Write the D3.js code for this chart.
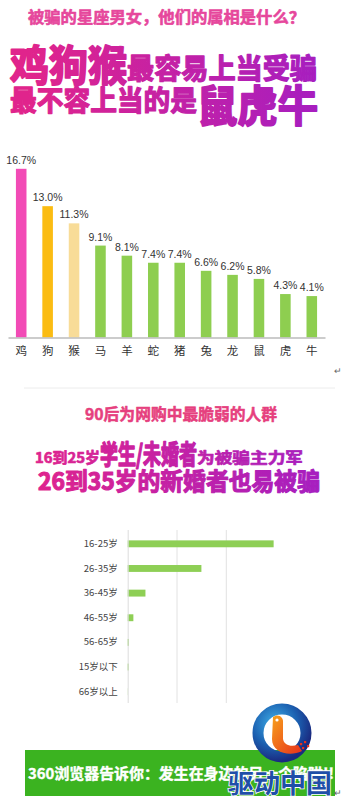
<!DOCTYPE html>
<html><head><meta charset="utf-8">
<script src="https://cdn.jsdelivr.net/npm/d3@7/dist/d3.min.js"></script>
<style>body{margin:0;background:#fff}svg{display:block}</style>
</head><body>
<script>
// ---- data ----
const zodiacCats = ["鸡","狗","猴","马","羊","蛇","猪","兔","龙","鼠","虎","牛"];
const zodiacVals = [16.7,13.0,11.3,9.1,8.1,7.4,7.4,6.6,6.2,5.8,4.3,4.1];
const zodiacColors = ["#f24bb6","#fbbc12","#f8dc98","#8ece50","#8ece50","#8ece50","#8ece50","#8ece50","#8ece50","#8ece50","#8ece50","#8ece50"];
const ageCats = ["16-25岁","26-35岁","36-45岁","46-55岁","56-65岁","15岁以下","66岁以上"];
const ageVals = [59.2,29.9,7.2,2.3,0.5,0.4,0.05];
const ageGrid = [20,40];

const W=345,H=799;
const svg=d3.select("body").append("svg").attr("width",W).attr("height",H);
const defs=svg.append("defs");
const g2=defs.append("linearGradient").attr("id","mag2").attr("gradientUnits","userSpaceOnUse").attr("x1",30).attr("x2",320).attr("y1",0).attr("y2",0);
g2.append("stop").attr("offset","0").attr("stop-color","#e0248c");
g2.append("stop").attr("offset","1").attr("stop-color","#a61ec0");
const gb=defs.append("radialGradient").attr("id","ring").attr("cx","0.35").attr("cy","0.3").attr("r","0.8");
gb.append("stop").attr("offset","0").attr("stop-color","#3fb0e8");
gb.append("stop").attr("offset","0.6").attr("stop-color","#1b5fb0");
gb.append("stop").attr("offset","1").attr("stop-color","#1a2a80");
const go=defs.append("linearGradient").attr("id","orng").attr("x1","0").attr("x2","1").attr("y1","0").attr("y2","1");
go.append("stop").attr("offset","0").attr("stop-color","#f7a21b");
go.append("stop").attr("offset","1").attr("stop-color","#e8301c");

const CJK='"Noto Sans CJK SC", sans-serif';
const ARIAL='"Liberation Sans", Arial, sans-serif';

function txt(s,x,y,size,fill,len,opts={}){
  const t=svg.append("text").attr("x",x).attr("y",y).attr("font-family",opts.family||CJK)
   .attr("font-size",size).attr("font-weight",opts.weight||"bold").attr("fill",fill)
   .attr("dominant-baseline","central").text(s);
  if(len){t.attr("textLength",len).attr("lengthAdjust","spacingAndGlyphs");}
  if(opts.anchor) t.attr("text-anchor",opts.anchor);
  if(opts.heavy){t.attr("stroke",fill).attr("stroke-width",opts.heavy).attr("stroke-linejoin","round");}
  return t;
}

// ---- header ----
txt("被骗的星座男女，他们的属相是什么？",28,15.5,16,"#e6479c",277,{heavy:0.6});
txt("鸡狗猴",10,62,42,"url(#mag2)",117,{heavy:2});
txt("最容易上当受骗",127,66.5,28,"url(#mag2)",190,{heavy:1.3});
txt("最不容上当的是",10,98.5,28,"url(#mag2)",187,{heavy:1.3});
txt("鼠虎牛",197,102.5,43,"url(#mag2)",121,{heavy:2});

// ---- chart 1 ----
const x1=d3.scaleBand().domain(zodiacCats).range([8,325]).paddingInner(0.6).paddingOuter(0.3);
const y1=d3.scaleLinear().domain([0,16.7]).range([337.5,168.8]);
const c1=svg.append("g");
c1.selectAll("rect").data(zodiacVals).join("rect")
  .attr("x",(d,i)=>x1(zodiacCats[i])).attr("width",x1.bandwidth())
  .attr("y",d=>y1(d)).attr("height",d=>y1(0)-y1(d)).attr("fill",(d,i)=>zodiacColors[i]);
c1.selectAll("text.v").data(zodiacVals).join("text").attr("class","v")
  .attr("x",(d,i)=>x1(zodiacCats[i])+x1.bandwidth()/2).attr("y",d=>y1(d)-5)
  .attr("text-anchor","middle").attr("font-family",ARIAL).attr("font-size",10.5).attr("fill","#333")
  .text(d=>d.toFixed(1)+"%");
const ax1=svg.append("g").attr("transform",`translate(0,${y1(0)})`)
  .call(d3.axisBottom(x1).tickSize(0).tickPadding(9));
ax1.select(".domain").attr("stroke","#bbb").attr("stroke-width",1.5);
ax1.selectAll("text").attr("font-family",CJK).attr("font-size",11.5).attr("fill","#333");
txt("↵",338,370,9,"#666",null,{weight:"normal",anchor:"middle"});

// separator
svg.append("line").attr("x1",24).attr("x2",335).attr("y1",388).attr("y2",388).attr("stroke","#ececec").attr("stroke-width",1);

// ---- section 2 header ----
txt("90后为网购中最脆弱的人群",85,413,16,"#e6407e",192,{heavy:0.5});
txt("16到25岁",35,456,15,"url(#mag2)",65,{heavy:0.7});
txt("学生/未婚者",100,452,26,"url(#mag2)",97,{heavy:1.5});
txt("为被骗主力军",197,456,15,"url(#mag2)",106,{heavy:0.7});
txt("26到35岁的新婚者也易被骗",38,479.5,24,"url(#mag2)",282,{heavy:1.2});

// ---- chart 2 ----
const x2=d3.scaleLinear().domain([0,60]).range([127.7,275.6]);
const y2=d3.scaleBand().domain(ageCats).range([531.5,704]).paddingInner(0.72).paddingOuter(0.36);
const c2=svg.append("g");
c2.selectAll("line.grid").data(ageGrid).join("line").attr("class","grid")
  .attr("x1",d=>x2(d)).attr("x2",d=>x2(d)).attr("y1",530).attr("y2",703)
  .attr("stroke","#e2e2e2").attr("stroke-width",1);
c2.selectAll("rect").data(ageVals).join("rect")
  .attr("x",x2(0)).attr("y",(d,i)=>y2(ageCats[i])).attr("height",y2.bandwidth())
  .attr("width",d=>x2(d)-x2(0)).attr("fill","#8ecf55");
const ax2=svg.append("g").attr("transform",`translate(${x2(0)},0)`)
  .call(d3.axisLeft(y2).tickSize(0).tickPadding(10));
ax2.select(".domain").attr("stroke","#dcdcdc").attr("d","M0.5,530V703");
ax2.selectAll("text").attr("font-family",CJK).attr("font-size",9.5).attr("fill","#444");

// ---- footer banner ----
svg.append("rect").attr("x",25).attr("y",750).attr("width",310).attr("height",46).attr("fill","#3bb320");
txt("360浏览器告诉你：发生在身边的另一个陷阱!!",28,772,15,"#fff",306,{heavy:0.4});

// ---- logo ----
const lg=svg.append("g").attr("transform","translate(282,733)");
lg.append("circle").attr("r",24).attr("fill","none").attr("stroke","url(#ring)").attr("stroke-width",11);
lg.append("path").attr("d","M-9,-16 C-4,-20 2,-16 1,-10 L1,6 C2,12 8,14 16,12 L20,18 C8,24 -10,20 -10,6 Z").attr("fill","url(#orng)");
lg.append("circle").attr("cx",-5).attr("cy",-13).attr("r",1.6).attr("fill","#fff");
lg.selectAll("rect.px").data([[18,10],[22,8],[20,14],[25,12]]).join("rect").attr("class","px")
  .attr("x",d=>d[0]).attr("y",d=>d[1]).attr("width",2.2).attr("height",2.2).attr("fill","#e8301c");
txt("驱动中国",228,781,26,"#1f4fa8",104).attr("stroke","#fff").attr("stroke-width",1.6).attr("paint-order","stroke");
txt("↵",338,792,9,"#666",null,{weight:"normal",anchor:"middle"});
</script>
</body></html>
